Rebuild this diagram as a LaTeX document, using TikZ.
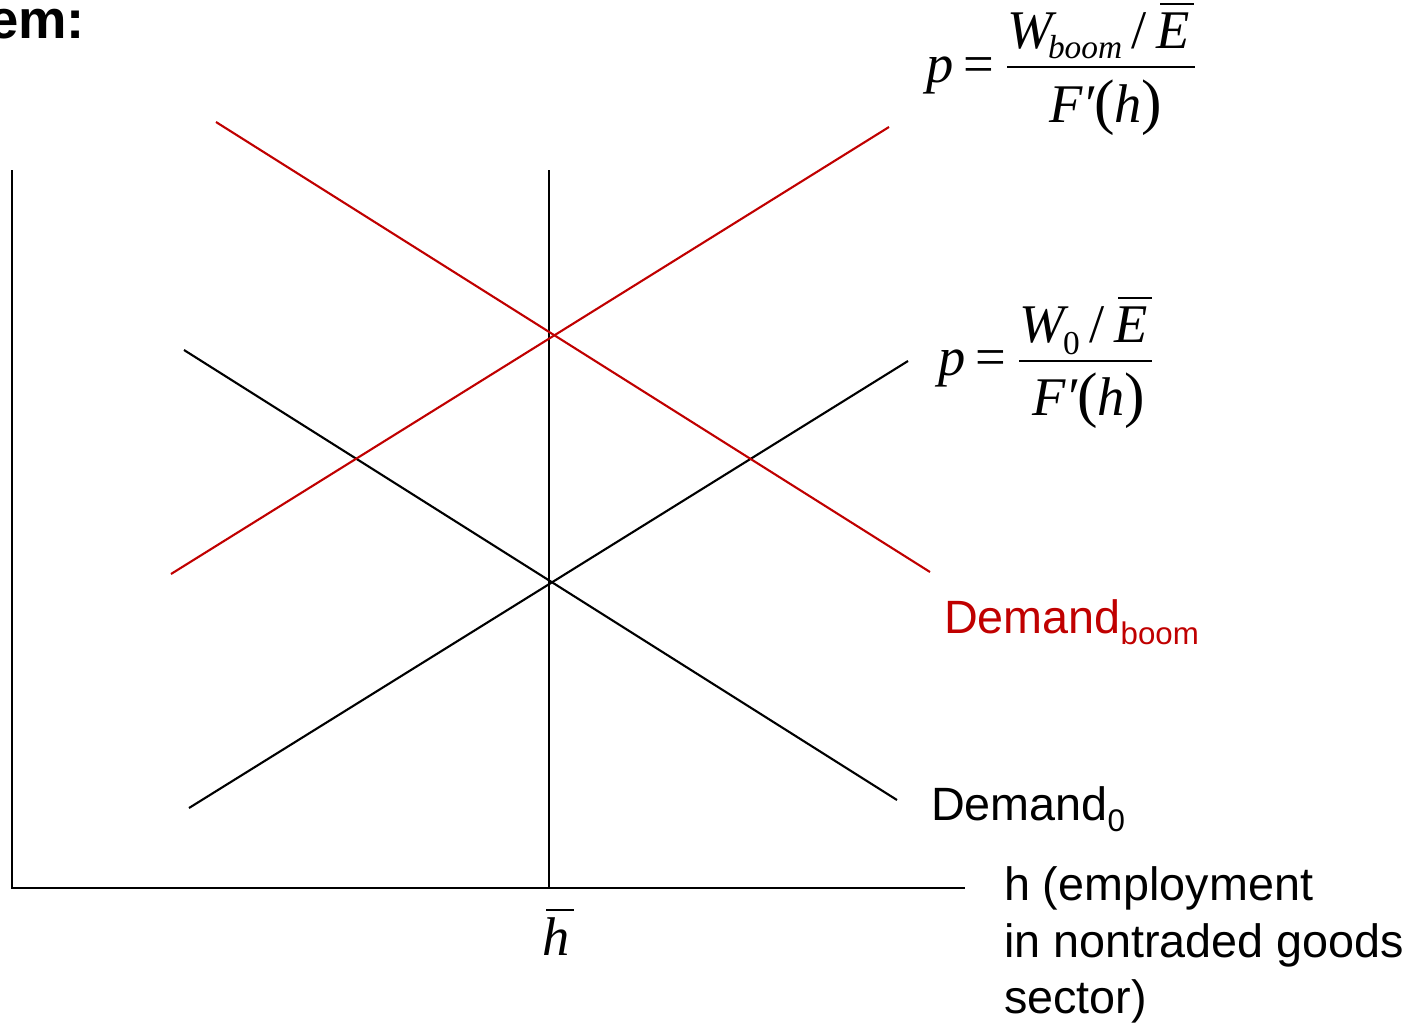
\documentclass[tikz,border=0pt]{standalone}
\usepackage{fontspec}
\setmainfont{Liberation Sans}
\newfontfamily\tms{Liberation Serif}
\definecolor{boomred}{RGB}{192,0,0}
\begin{document}
\begin{tikzpicture}[x=0.02cm,y=-0.02cm,line width=0.04cm,
  curve/.style={line width=0.042cm},
  redcurve/.style={line width=0.042cm,draw=boomred},
  lbl/.style={inner sep=0,anchor=base west,font=\fontsize{26.6}{32}\selectfont},
  mth/.style={inner sep=0,anchor=base west,font=\tms\itshape\fontsize{31}{36}\selectfont},
  mthup/.style={inner sep=0,anchor=base west,font=\tms\fontsize{31}{36}\selectfont},
  msub/.style={inner sep=0,anchor=base west,font=\tms\itshape\fontsize{19}{20}\selectfont},
  msubup/.style={inner sep=0,anchor=base west,font=\tms\fontsize{19}{20}\selectfont},
  fracbar/.style={line width=0.035cm}]
\useasboundingbox (0,0) rectangle (1427,1022);

% axes and vertical line
\coordinate (O) at (12,888);
\coordinate (Ytop) at (12,170);
\coordinate (Xend) at (965,888);
\coordinate (Vtop) at (549,170);
\coordinate (Vbot) at (549,888);
\draw (Ytop) -- (O) -- (Xend);
\draw (Vtop) -- (Vbot);

% curves
\coordinate (S0a) at (189,808); \coordinate (S0b) at (908,361);
\coordinate (D0a) at (184,350); \coordinate (D0b) at (897,800);
\coordinate (S1a) at (171,574); \coordinate (S1b) at (889,127);
\coordinate (D1a) at (216,122); \coordinate (D1b) at (930,572);
\draw[curve] (S0a) -- (S0b);
\draw[curve] (D0a) -- (D0b);
\draw[redcurve] (S1a) -- (S1b);
\draw[redcurve] (D1a) -- (D1b);

% title fragment
\node[inner sep=0,anchor=base east,font=\bfseries\fontsize{31}{33}\selectfont] (title) at (86,38) {em:};

% formula 1
\node[mth] (f1p) at (925,82) {p};
\node[mthup] (f1eq) at (962,82) {=};
\node[mth] (f1W) at (1006,48) {W};
\node[msub] (f1sub) at (1047,58) {boom};
\node[mthup] (f1sl) at (1130,48) {/};
\node[mth] (f1E) at (1155,48) {E};
\draw[fracbar] ([xshift=3]f1E.north west) ++(0,-7) coordinate (f1Ea) -- ([xshift=2]f1E.north east |- f1Ea) coordinate (f1Eb);
\coordinate (f1barL) at (1007,67); \coordinate (f1barR) at (1195,67);
\draw[fracbar] (f1barL) -- (f1barR);
\node[mth] (f1den) at (1048,122) {F′{\upshape\fontsize{35}{36}\selectfont(}h{\upshape\fontsize{35}{36}\selectfont)}};

% formula 2
\node[mth] (f2p) at (937,375) {p};
\node[mthup] (f2eq) at (974,375) {=};
\node[mth] (f2W) at (1018,342) {W};
\node[msubup] (f2sub) at (1062,354) {0};
\node[mthup] (f2sl) at (1088,342) {/};
\node[mth] (f2E) at (1113,342) {E};
\draw[fracbar] ([xshift=3]f2E.north west) ++(0,-7) coordinate (f2Ea) -- ([xshift=2]f2E.north east |- f2Ea) coordinate (f2Eb);
\coordinate (f2barL) at (1019,361); \coordinate (f2barR) at (1152,361);
\draw[fracbar] (f2barL) -- (f2barR);
\node[mth] (f2den) at (1031,415) {F′{\upshape\fontsize{35}{36}\selectfont(}h{\upshape\fontsize{35}{36}\selectfont)}};

% demand labels
\node[lbl,text=boomred] (dboom) at (943,633) {Demand\raisebox{-6.8pt}{\fontsize{17.8}{18}\selectfont boom}};
\node[lbl] (dzero) at (930,820) {Demand\raisebox{-6.8pt}{\fontsize{17.8}{18}\selectfont 0}};

% h bar label
\node[mth] (hbar) at (541,955) {h};
\draw[fracbar] ([xshift=3]hbar.north west) ++(0,-6) coordinate (hba) -- ([xshift=2]hbar.north east |- hba) coordinate (hbb);

% axis label
\node[lbl] (ax1) at (1003,900) {h (employment};
\node[lbl] (ax2) at (1003,957) {in nontraded goods};
\node[lbl] (ax3) at (1003,1013) {sector)};
\end{tikzpicture}
\end{document}
